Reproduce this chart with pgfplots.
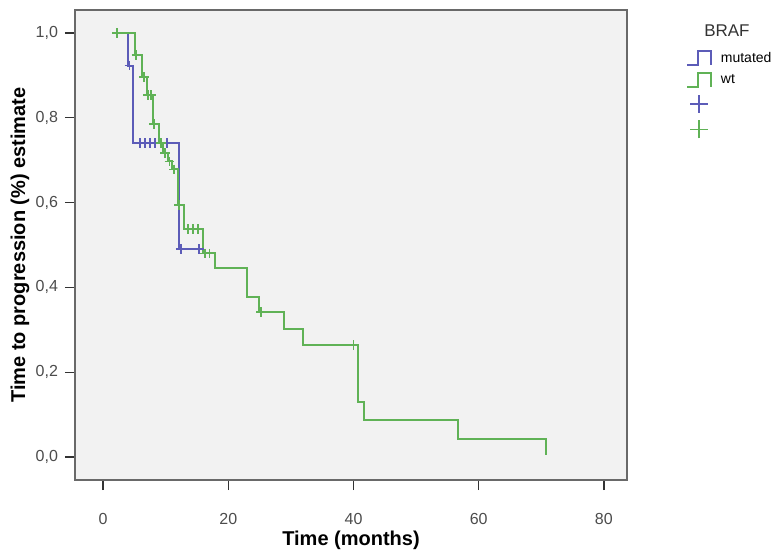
\documentclass[border=0pt]{standalone}
\usepackage{fontspec}
\setmainfont{Liberation Sans}
\usepackage{pgfplots}
\pgfplotsset{compat=1.18}

\definecolor{mutblue}{RGB}{92,92,184}
\definecolor{wtgreen}{RGB}{96,178,86}
\definecolor{framegray}{RGB}{105,105,105}
\definecolor{bggray}{RGB}{242,242,242}

\begin{document}
\begin{tikzpicture}
\begin{axis}[
    scale only axis,
    width=276pt, height=235pt,
    xmin=-4.5, xmax=83.7,
    ymin=-0.054, ymax=1.054,
    axis background/.style={fill=bggray},
    axis line style={framegray, line width=0.7pt},
    xtick={0,20,40,60,80},
    ytick={0,0.2,0.4,0.6,0.8,1},
    xtick pos=bottom, ytick pos=left,
    tick align=outside,
    major tick length=5pt,
    tick style={black!80, line width=0.7pt},
    ticklabel style={font=\fontsize{8}{9}\selectfont, text=black!70},
    /pgf/number format/assume math mode=true,
    xticklabel style={yshift=-8pt},
    yticklabel style={/pgf/number format/.cd, fixed, fixed zerofill, precision=1, use comma},
    xlabel={\bfseries Time (months)},
    ylabel={\bfseries Time to progression (\%) estimate},
    label style={font=\fontsize{10}{12}\selectfont},
    xlabel style={at={(axis description cs:0.5,-0.128)}, anchor=center},
    ylabel style={at={(axis description cs:-0.0996,0.5)}, anchor=center},
    clip mode=individual,
    legend style={at={(1.096,0.924)}, anchor=north west, draw=none, fill=none,
        font=\fontsize{7}{8}\selectfont, row sep=3pt,
        nodes={inner sep=0.8pt, text height=5pt, text depth=1pt}},
    legend cell align=left,
]

% BRAF mutated
\addplot[mutblue, line width=1pt, const plot,
    legend image code/.code={\draw[mutblue, line width=0.9pt] (0pt,-3.5pt) -- (5.5pt,-3.5pt) -- (5.5pt,3.5pt) -- (12pt,3.5pt) -- (12pt,-3.5pt); \path[draw=none] (0pt,0pt) (16pt,0pt);}]
coordinates {
    (1.6,1) (4.0,0.923) (4.8,0.74) (12.1,0.49) (15.3,0.49)
};
\addlegendentry{mutated}

% BRAF wt
\addplot[wtgreen, line width=1pt, const plot,
    legend image code/.code={\draw[wtgreen, line width=0.9pt] (0pt,-3.5pt) -- (5.5pt,-3.5pt) -- (5.5pt,3.5pt) -- (12pt,3.5pt) -- (12pt,-3.5pt); \path[draw=none] (0pt,0pt) (16pt,0pt);}]
coordinates {
    (1.6,1) (5.1,0.948) (6.2,0.896) (7.0,0.854) (7.9,0.785) (9.0,0.74)
    (9.6,0.717) (10.3,0.697) (11.0,0.678) (11.9,0.594) (12.9,0.538)
    (16.0,0.48) (17.9,0.446) (23.0,0.377) (24.9,0.342) (28.9,0.302)
    (31.9,0.264) (40.7,0.13) (41.7,0.087) (56.7,0.042) (70.8,0.005)
};
\addlegendentry{wt}

% censored, mutated
\addplot[only marks, mark=+, mutblue, mark size=2.4pt, line width=0.9pt,
    legend image code/.code={\draw[mutblue, line width=0.9pt] (1.5pt,0pt) -- (10.5pt,0pt) (6pt,-4.5pt) -- (6pt,4.5pt); \path[draw=none] (0pt,0pt) (16pt,0pt);}]
coordinates {
    (4.2,0.923) (5.9,0.74) (6.7,0.74) (7.5,0.74) (8.3,0.74) (10.2,0.74)
    (12.4,0.49) (15.3,0.49)
};
\addlegendentry{}

% censored, wt
\addplot[only marks, mark=+, wtgreen, mark size=2.4pt, line width=0.9pt,
    legend image code/.code={\draw[wtgreen, line width=0.9pt] (1.5pt,0pt) -- (10.5pt,0pt) (6pt,-4.5pt) -- (6pt,4.5pt); \path[draw=none] (0pt,0pt) (16pt,0pt);}]
coordinates {
    (2.2,1) (5.3,0.948) (6.5,0.896) (7.2,0.854) (7.6,0.854) (8.1,0.785)
    (9.2,0.74) (9.9,0.717) (10.6,0.697) (11.3,0.678) (12.1,0.594)
    (13.6,0.538) (14.4,0.538) (15.2,0.538) (16.3,0.48) (17.0,0.48)
    (25.2,0.342) (40.0,0.264)
};
\addlegendentry{}

\node[font=\fontsize{8.5}{10}\selectfont, text=black!80] at (rel axis cs:1.181,0.955) {BRAF};
\end{axis}
\pgfresetboundingbox
\path (current axis.south west) ++(-37.5pt,-38.5pt) rectangle ++(389.5pt,278.5pt);
\end{tikzpicture}
\end{document}
